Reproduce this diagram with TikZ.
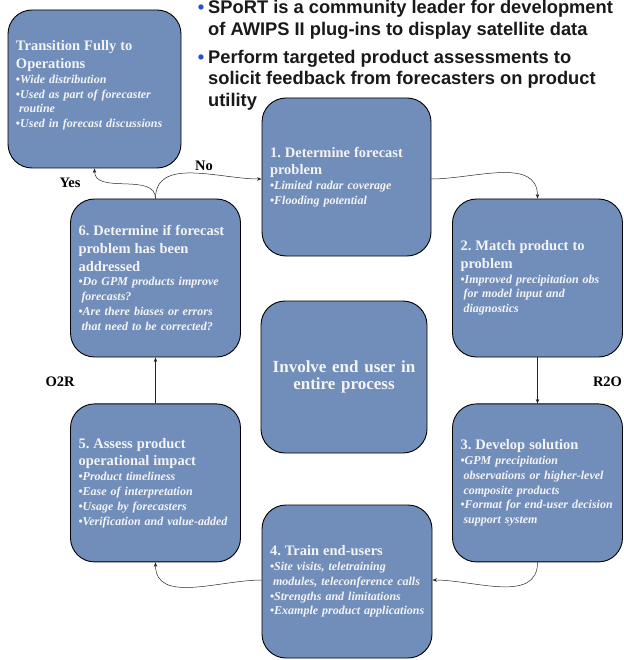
\documentclass[tikz,border=0pt]{standalone}
\usepackage{fontspec}
\setmainfont{Liberation Serif}
\newfontfamily\arialfont{Liberation Sans}
\usetikzlibrary{positioning, arrows.meta}
\definecolor{boxblue}{RGB}{113,142,186}
\definecolor{boxtext}{RGB}{244,244,246}
\definecolor{bulblue}{RGB}{40,80,200}
\tikzset{
    stepbox/.style={draw, line width=0.9pt, rounded corners=24pt, fill=boxblue, text=boxtext,
        text width=154pt, inner xsep=8pt, inner ysep=0pt, minimum height=158pt, align=left,
        font=\fontsize{12}{14.8}\selectfont\bfseries},
    flow/.style={-{Stealth[length=4.5pt,width=3.5pt]}, line width=0.5pt, black!85},
    tag/.style={font=\fontsize{14.5}{17}\selectfont\bfseries, text=black},
    note/.style={font=\arialfont\fontsize{18.3}{21.5}\selectfont\bfseries, text=black!90,
        align=left, inner sep=0pt, anchor=north west} }
\newcommand{\ttl}[1]{{\fontsize{14.5}{17.6}\selectfont #1\par}}
\newcommand{\bul}[1]{\mbox{\textbullet\textit{#1}}}
\newcommand{\cont}[1]{\mbox{\hspace*{3pt}\textit{#1}}}
\newcommand{\nbul}{\llap{\textcolor{bulblue}{\textbullet}\hspace{4pt}}}
\frenchspacing

\begin{document}
\begin{tikzpicture}[x=1pt, y=-1pt, node distance=46pt]
    \useasboundingbox (0,0) rectangle (623,660);
    % ---- cycle boxes
    \node[stepbox, text width=157pt] (trans) at (94.5,89) {\ttl{Transition Fully to\\Operations}
        \bul{Wide distribution}\\
        \bul{Used as part of forecaster}\\
        \cont{routine}\\
        \bul{Used in forecast discussions}\vspace{7pt}};
    \node[stepbox, text width=153pt] (define) at (346.5,177) {\ttl{1. Determine forecast\\problem}
        \bul{Limited radar coverage}\\
        \bul{Flooding potential}};
    \node[stepbox] (match) at (537.5,278) {\ttl{2. Match product to\\problem}
        \bul{Improved precipitation obs}\\
        \cont{for model input and}\\
        \cont{diagnostics}};
    \node[stepbox, below = of match] (develop) {\ttl{3. Develop solution}
        \bul{GPM precipitation}\\
        \cont{observations or higher-level}\\
        \cont{composite products}\\
        \bul{Format for end-user decision}\\
        \cont{support system}};
    \node[stepbox, minimum height=153pt] (train) at (347,581.5) {\ttl{4. Train end-users}
        \bul{Site visits, teletraining}\\
        \cont{modules, teleconference calls}\\
        \bul{Strengths and limitations}\\
        \bul{Example product applications}};
    \node[stepbox] (assess) at (155.5,278) {\ttl{6. Determine if forecast\\problem has been\\addressed}
        \bul{Do GPM products improve}\\
        \cont{forecasts?}\\
        \bul{Are there biases or errors}\\
        \cont{that need to be corrected?}};
    \node[stepbox, below = of assess] (impact) {\ttl{5. Assess product\\operational impact}
        \bul{Product timeliness}\\
        \bul{Ease of interpretation}\\
        \bul{Usage by forecasters}\\
        \bul{Verification and value-added}};
    \node[stepbox, text width=150pt, minimum height=152pt, align=center,
        font=\fontsize{17}{17.5}\selectfont\bfseries] (enduser) at (344,377) {Involve end user in\\entire process};
    % ---- notes at the top
    \node[note] (sport) at (208,0.5) {\nbul SPoRT is a community leader for development\\of AWIPS II plug-ins to display satellite data};
    \node[note] (feedback) at (208,50) {\nbul Perform targeted product assessments to\\solicit feedback from forecasters on product\\utility};
    % ---- labels
    \node[tag] (yes) at (70,183) {Yes};
    \node[tag] (no) at (204,166) {No};
    \node[tag] (o2r) at (60,382) {O2R};
    \node[tag] (r2o) at (607.5,382) {R2O};
    % ---- connectors
    \draw[flow] (assess.north) to[out=90, in=-90] (trans.south);
    \draw[flow] (assess.north) to[out=90, in=180] ([yshift=-2pt]define.west);
    \draw[flow] ([yshift=-2pt]define.east) to[out=0, in=90] (match.north);
    \draw[flow] (match) -- (develop);
    \draw[flow] (develop.south) to[out=-90, in=0] ([yshift=1.5pt]train.east);
    \draw[flow] ([yshift=1.5pt]train.west) to[out=180, in=-90] (impact.south);
    \draw[flow] (impact) -- (assess);
\end{tikzpicture}
\end{document}
